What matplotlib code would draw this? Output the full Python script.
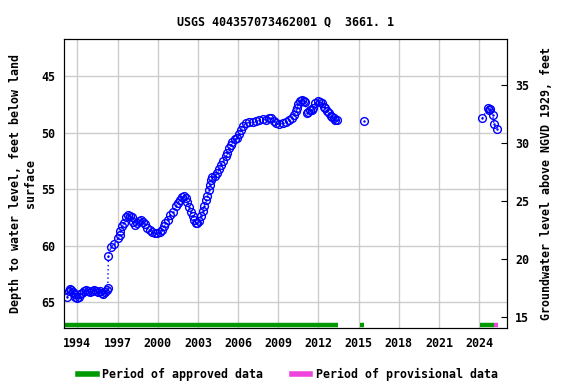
import matplotlib
matplotlib.use("Agg")
import matplotlib.pyplot as plt
import matplotlib.transforms as mtransforms
from matplotlib.lines import Line2D

# continuous record, 1993-2013
years_a = [1993.25, 1993.35, 1993.45, 1993.55, 1993.65, 1993.75, 1993.85, 1994.0, 1994.1, 1994.2,
           1994.35, 1994.5, 1994.65, 1994.8, 1994.95, 1995.1, 1995.25, 1995.4, 1995.55, 1995.7,
           1995.85, 1995.95, 1996.1, 1996.2, 1996.27, 1996.32, 1996.5, 1996.77, 1997.05, 1997.15,
           1997.22, 1997.35, 1997.45, 1997.6, 1997.75, 1997.9, 1998.05, 1998.15, 1998.3, 1998.45,
           1998.6, 1998.75, 1998.9, 1999.05, 1999.2, 1999.4, 1999.6, 1999.8, 1999.95, 2000.15,
           2000.33, 2000.45, 2000.58, 2000.75, 2000.95, 2001.15, 2001.33, 2001.5, 2001.7, 2001.85,
           2001.95, 2002.1, 2002.2, 2002.35, 2002.45, 2002.6, 2002.7, 2002.85, 2002.95, 2003.1,
           2003.2, 2003.35, 2003.45, 2003.6, 2003.7, 2003.8, 2003.88, 2004.0, 2004.08, 2004.25,
           2004.45, 2004.6, 2004.7, 2004.9, 2005.08, 2005.2, 2005.33, 2005.45, 2005.58, 2005.75,
           2005.95, 2006.1, 2006.2, 2006.35, 2006.58, 2006.8, 2007.08, 2007.3, 2007.55, 2007.83,
           2008.1, 2008.3, 2008.45, 2008.65, 2008.83, 2009.05, 2009.33, 2009.55, 2009.83, 2010.0,
           2010.2, 2010.3, 2010.38, 2010.5, 2010.6, 2010.75, 2010.9, 2011.0, 2011.13, 2011.25,
           2011.4, 2011.5, 2011.6, 2011.75, 2011.93, 2012.1, 2012.25, 2012.4, 2012.5, 2012.65,
           2012.75, 2012.9, 2013.0, 2013.15, 2013.25, 2013.4]
depth_a = [64.55, 64.0, 63.8, 63.9, 64.1, 64.3, 64.5, 64.6, 64.5, 64.3,
           64.2, 64.0, 63.9, 64.0, 64.1, 64.0, 63.9, 64.0, 64.1, 64.0,
           64.2, 64.3, 64.1, 63.9, 63.75, 60.95, 60.1, 59.85, 59.3, 59.05,
           58.7, 58.3, 57.95, 57.45, 57.3, 57.35, 57.5, 57.9, 58.15, 58.0,
           57.8, 57.7, 57.9, 58.1, 58.45, 58.6, 58.75, 58.85, 58.9, 58.8,
           58.6, 58.3, 58.0, 57.7, 57.3, 57.0, 56.5, 56.2, 55.95, 55.7,
           55.65, 55.8, 56.1, 56.6, 57.0, 57.4, 57.7, 57.95, 58.0, 57.8,
           57.4, 56.9, 56.5, 56.0, 55.6, 55.1, 54.6, 54.2, 53.9, 53.8,
           53.6, 53.2, 52.85, 52.5, 52.1, 51.8, 51.4, 51.1, 50.8, 50.6,
           50.5, 50.1, 49.75, 49.45, 49.2, 49.1, 49.1, 49.0, 48.9, 48.8,
           48.85, 48.75, 48.7, 48.95, 49.2, 49.25, 49.2, 49.05, 48.9, 48.7,
           48.45, 48.1, 47.85, 47.5, 47.2, 47.1, 47.2, 47.3, 48.3, 48.2,
           48.0, 48.0, 47.8, 47.4, 47.25, 47.3, 47.4, 47.7, 47.85, 48.1,
           48.3, 48.5, 48.65, 48.75, 48.85, 48.85]

# isolated measurements
years_b = [2015.38]
depth_b = [48.98]
years_c = [2024.23, 2024.65, 2024.73, 2024.8, 2025.0, 2025.1, 2025.3]
depth_c = [48.74, 47.8, 48.0, 47.9, 48.45, 49.24, 49.7]

approved = [(1993.1, 2013.45), (2015.13, 2015.43), (2024.05, 2025.1)]
provisional = [(2025.1, 2025.4)]

x_ticks = [1994, 1997, 2000, 2003, 2006, 2009, 2012, 2015, 2018, 2021, 2024]
left_ticks = [45, 50, 55, 60, 65]
right_ticks = [15, 20, 25, 30, 35]

FONT = dict(family="DejaVu Sans Mono", weight="bold", size=8.4)
BLUE = "#0000ff"

fig = plt.figure(figsize=(5.76, 3.84), dpi=100)
ax = fig.add_axes([0.111, 0.145, 0.7687, 0.7527])

for xs, ys in [(years_a, depth_a), (years_b, depth_b), (years_c, depth_c)]:
    ax.plot(xs, ys, linestyle=(0, (1, 2)), color=BLUE, linewidth=1.0,
            marker="o", markersize=5.6, markerfacecolor="none",
            markeredgecolor=BLUE, markeredgewidth=1.0)
    ax.plot(xs, ys, linestyle="none", marker=".", markersize=1.5, color=BLUE)

trans = mtransforms.blended_transform_factory(ax.transData, ax.transAxes)
for x0, x1 in approved:
    ax.plot([x0, x1], [0.012, 0.012], color="#009900", linewidth=3.2,
            solid_capstyle="butt", transform=trans)
for x0, x1 in provisional:
    ax.plot([x0, x1], [0.012, 0.012], color="#ee44dd", linewidth=3.2,
            solid_capstyle="butt", transform=trans)

ax.set_xlim(1993.0, 2026.05)
ax.set_ylim(67.3, 41.76)
ax.set_xticks(x_ticks)
ax.set_yticks(left_ticks)
ax.grid(color="#cccccc", linewidth=1.0)
ax.set_axisbelow(True)
ax.tick_params(direction="in", length=0, pad=6)
for lab in ax.get_xticklabels() + ax.get_yticklabels():
    lab.set_fontproperties(FONT)
ax.set_ylabel("Depth to water level, feet below land\nsurface", fontdict=FONT, labelpad=3)
ax.set_title("USGS 404357073462001 Q  3661. 1", fontdict=FONT, pad=10)

ax2 = ax.twinx()
ax2.set_ylim(14.0, 38.95)
ax2.set_yticks(right_ticks)
ax2.tick_params(direction="in", length=4, pad=6)
for lab in ax2.get_yticklabels():
    lab.set_fontproperties(FONT)
ax2.set_ylabel("Groundwater level above NGVD 1929, feet", fontdict=FONT, labelpad=8)

handles = [Line2D([], [], color="#009900", linewidth=4),
           Line2D([], [], color="#ee44dd", linewidth=4)]
fig.legend(handles, ["Period of approved data", "Period of provisional data"],
           loc="lower center", bbox_to_anchor=(0.5, -0.02), ncol=2, frameon=False,
           prop=FONT, handlelength=1.6, handletextpad=0.5, columnspacing=2.4)

fig.savefig("out.png", dpi=100)
